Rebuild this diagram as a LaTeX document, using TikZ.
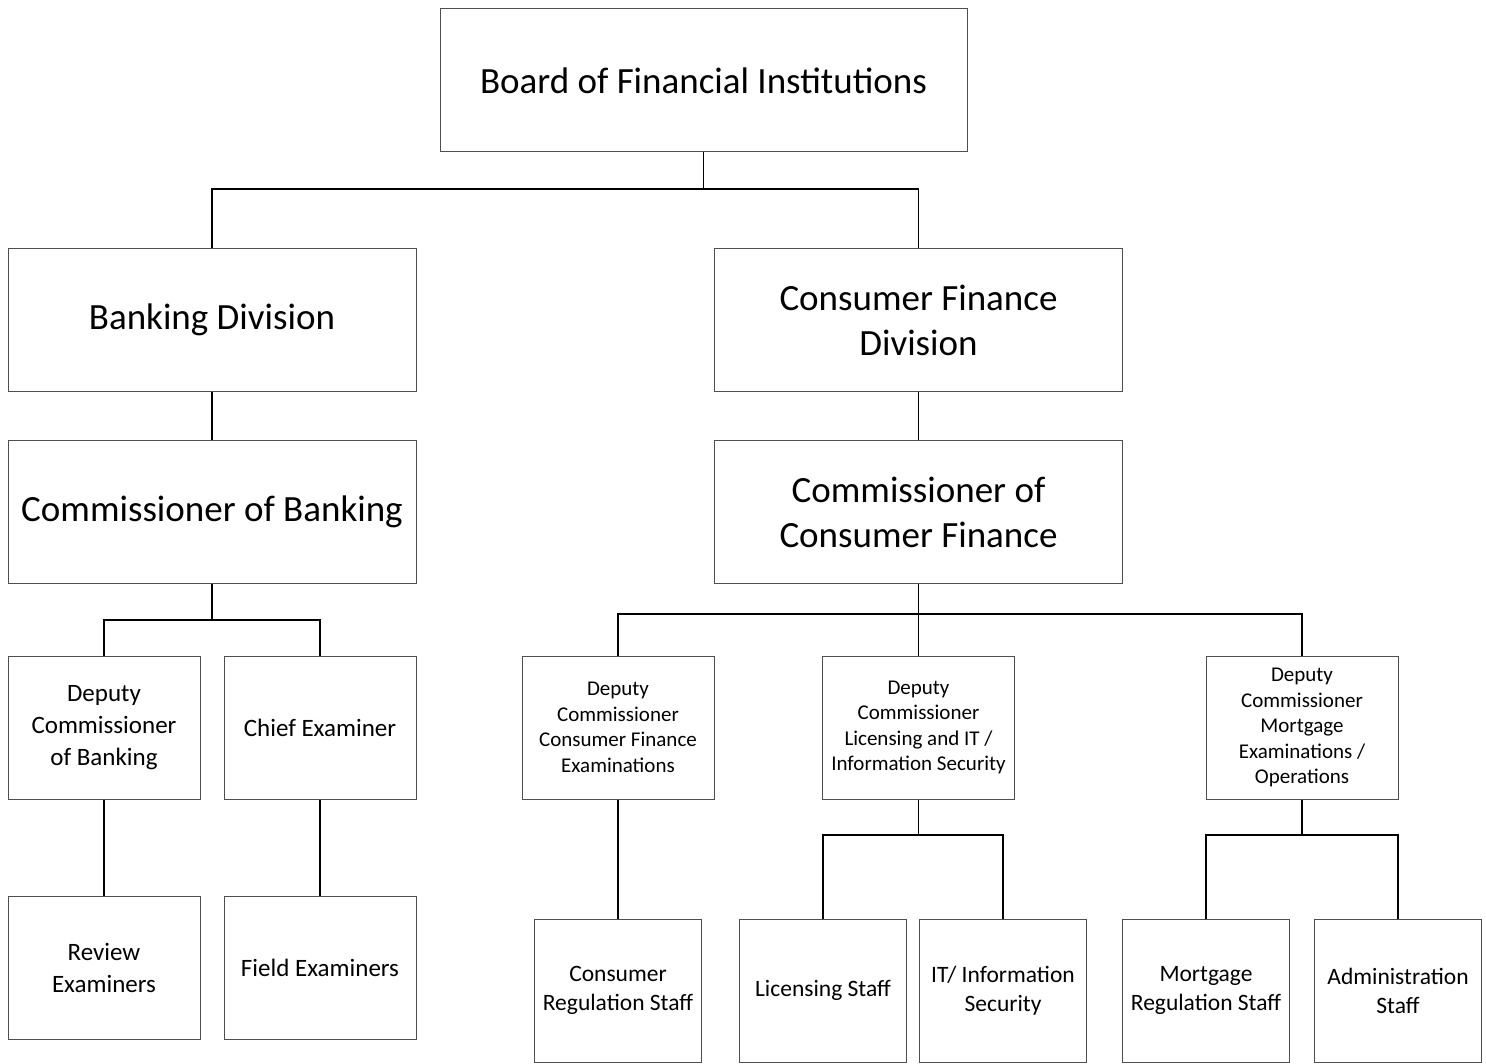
\documentclass[tikz,border=0pt]{standalone}
\usepackage{fontspec}
\setmainfont{Carlito}
\definecolor{rahmen}{HTML}{4F4F4F}
\tikzset{
  box/.style={draw=rahmen,line width=1pt,inner sep=0pt,align=center},
  big/.style={box,font=\fontsize{37}{45}\selectfont},
  mid/.style={box,font=\fontsize{25}{32}\selectfont},
  small/.style={box,font=\fontsize{21}{25.5}\selectfont},
  staffbox/.style={box,font=\fontsize{23.5}{29}\selectfont,minimum width=167pt,minimum height=143pt},
  wide/.style={minimum width=408pt,minimum height=143pt},
  narrow/.style={minimum width=192pt,minimum height=143pt},
  link/.style={black,line width=1.8pt},
}
\begin{document}
\begin{tikzpicture}[x=1pt,y=-1pt]
  \useasboundingbox (0,0) rectangle (1486,1064);
  % top
  \node[big,minimum width=527pt,minimum height=143pt] (board) at (703.5,80.5) {Board of Financial Institutions};
  \node[big,wide] (bank) at (212,320) {Banking Division};
  \node[big,wide] (cfd) at (918.5,320) {Consumer Finance\\Division};
  \node[big,wide] (bcom) at (212,512) {Commissioner of Banking};
  \node[big,wide] (cfcom) at (918.5,512) {Commissioner of\\Consumer Finance};
  % banking side
  \node[mid,narrow] (bdep) at (104,727.5) {Deputy\\Commissioner\\of Banking};
  \node[mid,narrow] (chief) at (320,727.5) {Chief Examiner};
  \node[mid,narrow] (review) at (104,967.5) {Review\\Examiners};
  \node[mid,narrow] (field) at (320,967.5) {Field Examiners};
  % consumer finance side
  \node[small,narrow] (dcf) at (618,727.5) {Deputy\\Commissioner\\Consumer Finance\\Examinations};
  \node[small,narrow] (dlic) at (918.5,727.5) {Deputy\\Commissioner\\Licensing and IT /\\Information Security};
  \node[small,narrow] (dmort) at (1302,727.5) {Deputy\\Commissioner\\Mortgage\\Examinations /\\Operations};
  \node[staffbox] (cstaff) at (618,990.5) {Consumer\\Regulation Staff};
  \node[staffbox] (lstaff) at (823,990.5) {Licensing Staff};
  \node[staffbox] (itstaff) at (1003,990.5) {IT/ Information\\Security};
  \node[staffbox] (mstaff) at (1206,990.5) {Mortgage\\Regulation Staff};
  \node[staffbox] (admin) at (1398,990.5) {Administration\\Staff};
  % junctions
  \coordinate (j0) at (703.5,189);
  \coordinate (j1) at (212,620);
  \coordinate (j2) at (918.5,614);
  \coordinate (j3) at (918.5,835);
  \coordinate (j4) at (1302,835);
  % connectors
  \draw[link] (board.south) -- (j0) -| (bank.north);
  \draw[link] (j0) -| (cfd.north);
  \draw[link] (bank.south) -- (bcom.north);
  \draw[link] (cfd.south) -- (cfcom.north);
  \draw[link] (bcom.south) -- (j1) -| (bdep.north);
  \draw[link] (j1) -| (chief.north);
  \draw[link] (bdep.south) -- (review.north);
  \draw[link] (chief.south) -- (field.north);
  \draw[link] (cfcom.south) -- (dlic.north);
  \draw[link] (j2) -| (dcf.north);
  \draw[link] (j2) -| (dmort.north);
  \draw[link] (dcf.south) -- (cstaff.north);
  \draw[link] (dlic.south) -- (j3) -| (lstaff.north);
  \draw[link] (j3) -| (itstaff.north);
  \draw[link] (dmort.south) -- (j4) -| (mstaff.north);
  \draw[link] (j4) -| (admin.north);
\end{tikzpicture}
\end{document}
